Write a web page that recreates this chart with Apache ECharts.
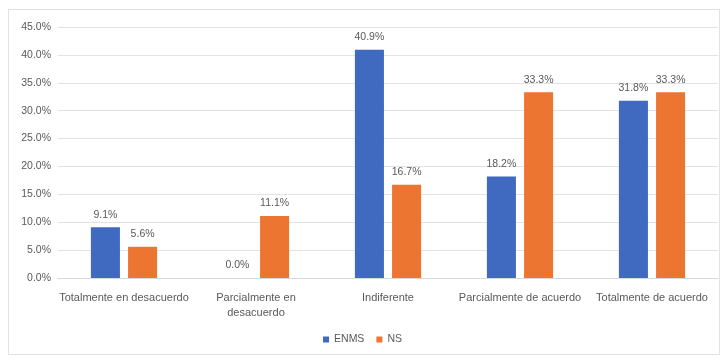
<!DOCTYPE html>
<html>
<head>
<meta charset="utf-8">
<style>
  html, body { margin: 0; padding: 0; background: #ffffff; }
  #chart { width: 725px; height: 360px; }
  #frame { position: absolute; left: 8px; top: 9px; width: 712px; height: 346px; border: 1px solid #e2e2e2; box-sizing: border-box; pointer-events: none; }
</style>
<script src="https://cdn.jsdelivr.net/npm/echarts@6/dist/echarts.min.js"></script>
</head>
<body>
<div id="chart"></div>
<div id="frame"></div>
<script>
// Response categories along the x axis
const categories = [
  'Totalmente en desacuerdo',
  'Parcialmente en\ndesacuerdo',
  'Indiferente',
  'Parcialmente de acuerdo',
  'Totalmente de acuerdo'
];
// Percentages per group
const enmsValues = [9.1, 0.0, 40.9, 18.2, 31.8];
const nsValues = [5.6, 11.1, 16.7, 33.3, 33.3];
const seriesNames = ['ENMS', 'NS'];

const FONT = '"Liberation Sans Narrow", "Arial Narrow", "Liberation Sans", sans-serif';
const TEXT = '#595959';

const chart = echarts.init(document.getElementById('chart'), null, { renderer: 'canvas' });

const labelOpt = {
  show: true,
  position: 'top',
  distance: 7,
  color: TEXT,
  fontFamily: FONT,
  fontSize: 10.5,
  formatter: p => p.value.toFixed(1) + '%'
};

chart.setOption({
  animation: false,
  backgroundColor: '#ffffff',
  grid: { left: 58, right: 7, top: 27, bottom: 82 },
  legend: {
    bottom: 10,
    left: 'center',
    itemWidth: 6,
    itemHeight: 6,
    itemGap: 12,
    icon: 'rect',
    textStyle: { color: TEXT, fontFamily: FONT, fontSize: 10.5 },
    data: seriesNames
  },
  xAxis: {
    type: 'category',
    data: categories,
    axisTick: { show: false },
    axisLine: { lineStyle: { color: '#d9d9d9' } },
    axisLabel: { color: TEXT, fontFamily: FONT, fontSize: 11, interval: 0, margin: 12, lineHeight: 15 }
  },
  yAxis: {
    type: 'value',
    min: 0,
    max: 45,
    interval: 5,
    axisLine: { show: false },
    axisTick: { show: false },
    splitLine: { lineStyle: { color: '#e3e3e3' } },
    axisLabel: { color: TEXT, fontFamily: FONT, fontSize: 10.5, margin: 7, formatter: v => v.toFixed(1) + '%' }
  },
  series: [
    {
      name: seriesNames[0],
      type: 'bar',
      data: enmsValues,
      barWidth: '22%',
      barGap: '28%',
      itemStyle: { color: '#3f6ac0' },
      label: labelOpt
    },
    {
      name: seriesNames[1],
      type: 'bar',
      data: nsValues,
      barWidth: '22%',
      itemStyle: { color: '#ed7532' },
      label: labelOpt
    }
  ]
});
</script>
</body>
</html>
